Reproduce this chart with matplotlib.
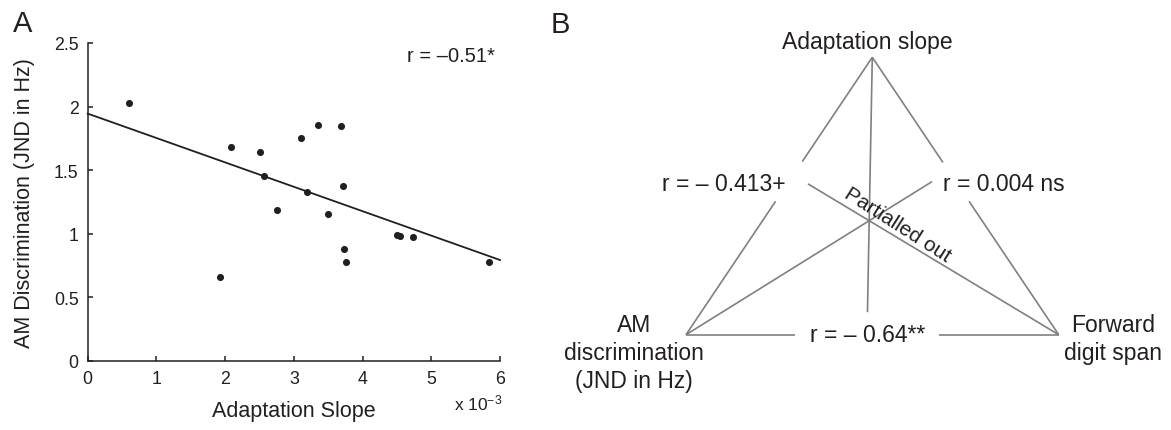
import numpy as np
import matplotlib
matplotlib.use('Agg')
import matplotlib.pyplot as plt

plt.rcParams['font.family'] = ['Liberation Sans', 'DejaVu Sans']
plt.rcParams['mathtext.fontset'] = 'custom'
plt.rcParams['mathtext.rm'] = 'Liberation Sans'
plt.rcParams['mathtext.it'] = 'Liberation Sans:italic'
plt.rcParams['mathtext.bf'] = 'Liberation Sans:bold'

# ---------------- Panel A data ----------------
adaptation_slope = [0.60, 1.93, 2.09, 2.51, 2.56, 2.76, 3.10, 3.19, 3.35,
                    3.50, 3.68, 3.71, 3.73, 3.76, 4.50, 4.55, 4.73, 5.84]  # x 10^-3
am_jnd = [2.025, 0.66, 1.685, 1.645, 1.456, 1.186, 1.755, 1.325, 1.852,
          1.157, 1.844, 1.377, 0.884, 0.777, 0.994, 0.981, 0.973, 0.777]
fit_x = [0, 6]
fit_y = [1.945, 0.794]
x_ticks = [0, 1, 2, 3, 4, 5, 6]
x_tick_labels = ['0', '1', '2', '3', '4', '5', '6']
y_ticks = [0, 0.5, 1, 1.5, 2, 2.5]
y_tick_labels = ['0', '0.5', '1', '1.5', '2', '2.5']
r_text_A = 'r = \u20130.51*'
x_label_A = 'Adaptation Slope'
y_label_A = 'AM Discrimination (JND in Hz)'

# ---------------- Panel B data ----------------
node_labels = [["Adaptation slope"],
               ["AM", "discrimination", "(JND in Hz)"],
               ["Forward", "digit span"]]
corr_labels = ["r = \u2013 0.413+", "r = 0.004 ns", "r = \u2013 0.64**"]
partial_label = "Partialled out"

W, H = 1171, 431
TXT = '#231f20'
GRAY = '#808080'

fig = plt.figure(figsize=(W / 100, H / 100), dpi=100)


def fx(px):
    return px / W


def fy(py):
    return 1 - py / H


# ---------------- Panel A ----------------
axL, axR, axT, axB_ = 87.7, 500.0, 44.0, 362.0
ax = fig.add_axes([fx(axL), fy(axB_), (axR - axL) / W, (axB_ - axT) / H])
ax.scatter(adaptation_slope, am_jnd, s=26, color=TXT, zorder=3, linewidths=0)
ax.plot(fit_x, fit_y, color=TXT, lw=1.3, clip_on=False, zorder=2)
ax.set_xlim(0, 6)
ax.set_ylim(0, 2.5)
ax.set_xticks(x_ticks)
ax.set_xticklabels(x_tick_labels)
ax.set_yticks(y_ticks)
ax.set_yticklabels(y_tick_labels)
for s in ['top', 'right']:
    ax.spines[s].set_visible(False)
for s in ['left', 'bottom']:
    ax.spines[s].set_linewidth(1.1)
    ax.spines[s].set_color(TXT)
ax.tick_params(direction='in', length=3.5, width=1.1, colors=TXT,
               labelsize=12.8, pad=6.5)
ax.set_xlabel(x_label_A, fontsize=15.5, color=TXT)
ax.xaxis.label.set_va('center')
ax.xaxis.set_label_coords(0.5, (axB_ - 412) / (axB_ - axT))
ax.set_ylabel(y_label_A, fontsize=15.5, color=TXT)
ax.yaxis.label.set_va('center')
ax.yaxis.set_label_coords((25 - axL) / (axR - axL), 0.5)
fig.text(fx(502), fy(410.5), r'x 10$^{-3}$', ha='right', va='baseline',
         fontsize=12.5, color=TXT)
fig.text(fx(495), fy(61.7), r_text_A, ha='right', va='baseline',
         fontsize=14.5, color=TXT)

fig.text(fx(13), fy(32.3), 'A', ha='left', va='baseline', fontsize=21, color=TXT)
fig.text(fx(551), fy(32.7), 'B', ha='left', va='baseline', fontsize=21, color=TXT)

# ---------------- Panel B ----------------
x0 = 580
axb = fig.add_axes([fx(x0), 0, (W - x0) / W, 1])
axb.set_xlim(x0, W)
axb.set_ylim(H, 0)
axb.axis('off')

apex = np.array([872.3, 58.3])
left_v = np.array([686.0, 335.7])
right_v = np.array([1058.7, 335.7])
hub = np.array([869.2, 221.7])


def seg(a, b, t0, t1):
    p0 = a + t0 * (b - a)
    p1 = a + t1 * (b - a)
    axb.plot([p0[0], p1[0]], [p0[1], p1[1]], color=GRAY, lw=1.2,
             solid_capstyle='butt')


# triangle sides (with gaps for the labels)
seg(apex, left_v, 0, 0.376)
seg(apex, left_v, 0.519, 1)
seg(apex, right_v, 0, 0.379)
seg(apex, right_v, 0.519, 1)
seg(left_v, right_v, 0, 0.292)
seg(left_v, right_v, 0.680, 1)
# lines through the central hub
seg(apex, hub, 0, 1.56)
seg(left_v, hub, 0, 1.343)
seg(right_v, hub, 0, 1.323)

fsB = 16.5
# node labels
axb.text(867.5, 49, node_labels[0][0], ha='center', va='baseline',
         fontsize=fsB, color=TXT)
for i, line in enumerate(node_labels[1]):
    axb.text(634, 331.7 + i * 28.3, line, ha='center', va='baseline',
             fontsize=fsB, color=TXT)
for i, line in enumerate(node_labels[2]):
    axb.text(1113, 331.7 + i * 28.3, line, ha='center', va='baseline',
             fontsize=fsB, color=TXT)

# correlation labels
axb.text(724, 191.5, corr_labels[0], ha='center', va='baseline',
         fontsize=fsB, color=TXT)
axb.text(1004, 191.5, corr_labels[1], ha='center', va='baseline',
         fontsize=fsB, color=TXT)
axb.text(867.5, 341.7, corr_labels[2], ha='center', va='baseline',
         fontsize=fsB, color=TXT)

axb.text(894, 230, partial_label, ha='center', va='baseline',
         rotation=-32.5, rotation_mode='anchor', fontsize=15, color=TXT)

fig.savefig('out.png', dpi=100)
